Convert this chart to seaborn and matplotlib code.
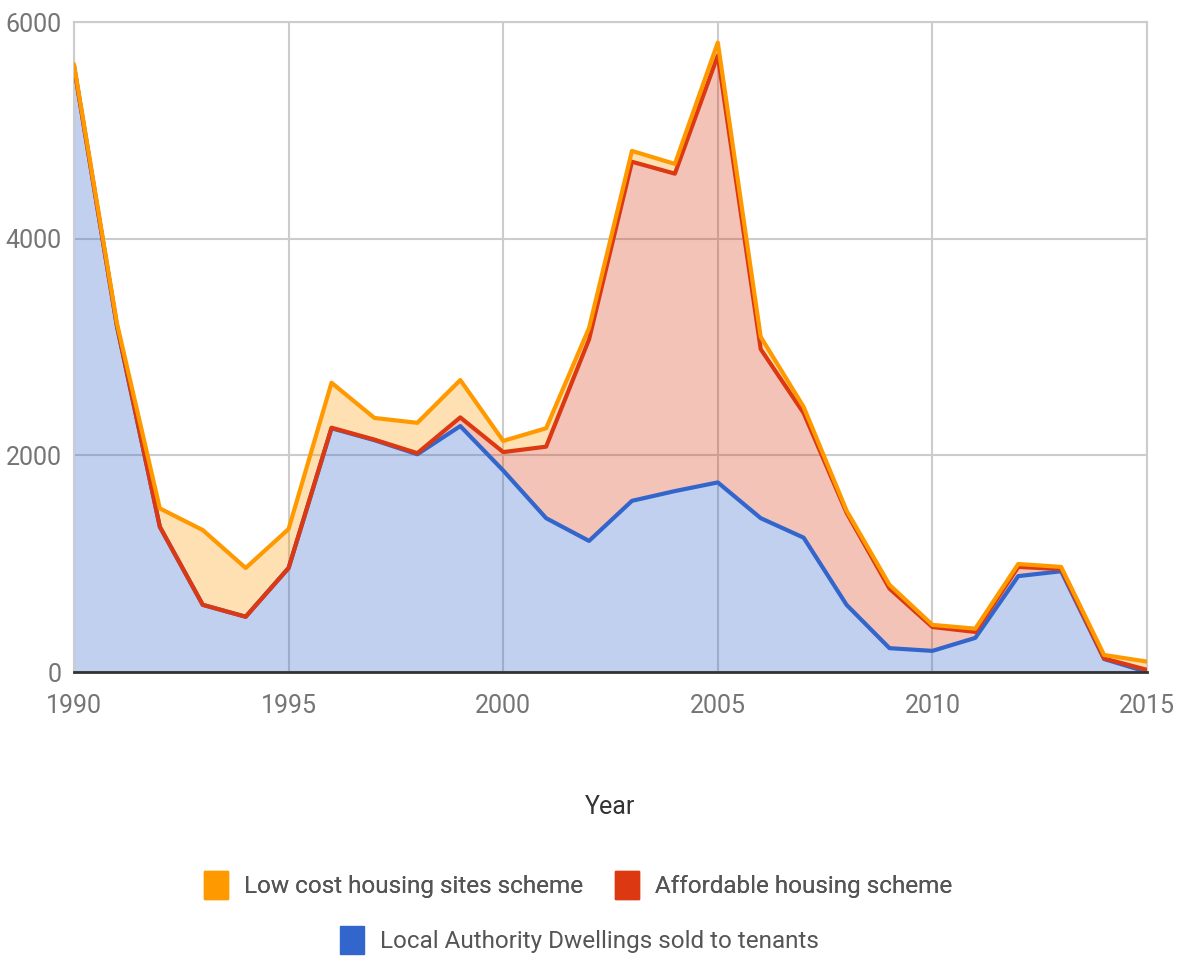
import numpy as np
import seaborn as sns
import matplotlib.pyplot as plt
from matplotlib.patches import Patch

years = list(range(1990, 2016))

# values per scheme
local_authority = [5590, 3190, 1340, 620, 510, 960, 2250, 2140, 2010, 2270,
                   1860, 1420, 1210, 1580, 1670, 1750, 1420, 1240, 620, 220,
                   195, 315, 885, 930, 120, 0]
affordable = [0, 10, 0, 0, 0, 0, 5, 5, 10, 80,
              170, 660, 1860, 3130, 2930, 3940, 1560, 1150, 850, 550,
              220, 55, 85, 20, 5, 20]
low_cost = [20, 20, 170, 690, 450, 360, 415, 200, 280, 345,
            103, 170, 105, 100, 90, 120, 113, 57, 20, 35,
            20, 30, 27, 20, 32, 76]

series_names = ["Low cost housing sites scheme", "Affordable housing scheme",
                "Local Authority Dwellings sold to tenants"]

BLUE = "#3366CC"
RED = "#DC3912"
ORANGE = "#FF9900"

sns.set_theme(style="whitegrid")
plt.rcParams["font.family"] = ["Roboto", "DejaVu Sans"]

fig = plt.figure(figsize=(11.78, 9.59), dpi=100)
ax = fig.add_axes([74 / 1178, 1 - 672 / 959, (1147 - 74) / 1178, (672 - 22) / 959])

blue_top = np.array(local_authority)
red_top = blue_top + np.array(affordable)
orange_top = red_top + np.array(low_cost)

ax.fill_between(years, 0, blue_top, color=BLUE, alpha=0.3, lw=0, zorder=2)
ax.fill_between(years, blue_top, red_top, color=RED, alpha=0.3, lw=0, zorder=2)
ax.fill_between(years, red_top, orange_top, color=ORANGE, alpha=0.3, lw=0, zorder=2)

sns.lineplot(x=years, y=blue_top, color=BLUE, linewidth=3, ax=ax, zorder=3)
sns.lineplot(x=years, y=red_top, color=RED, linewidth=3, ax=ax, zorder=4)
sns.lineplot(x=years, y=orange_top, color=ORANGE, linewidth=3, ax=ax, zorder=5)

ax.set_xlim(1990, 2015)
ax.set_ylim(0, 6000)
ax.set_xticks([1990, 1995, 2000, 2005, 2010, 2015])
ax.set_yticks([0, 2000, 4000, 6000])
ax.set_axisbelow(True)
ax.grid(True, color="#CCCCCC", linewidth=1.5)
ax.set_facecolor("white")
for side in ["top", "left", "right"]:
    ax.spines[side].set_color("#CCCCCC")
    ax.spines[side].set_linewidth(1.5)
ax.spines["bottom"].set_color("#333333")
ax.spines["bottom"].set_linewidth(2)
ax.spines["bottom"].set_zorder(6)

ax.tick_params(axis="x", labelsize=18, colors="#757575", pad=16, length=0)
ax.tick_params(axis="y", labelsize=18, colors="#757575", pad=9, length=0)
ax.set_xlabel("")
ax.set_ylabel("")

fig.text(610 / 1178, 1 - 807 / 959, "Year", ha="center", va="center",
         fontsize=18, color="#333333")

colors = [ORANGE, RED, BLUE]
handles = [Patch(facecolor=c, edgecolor=c) for c in colors]

leg_style = dict(frameon=False, fontsize=17.5, handlelength=1.0, handleheight=1.45,
                 handletextpad=0.65, columnspacing=1.3, labelcolor="#555555",
                 loc="center")
leg1 = fig.legend(handles[:2], series_names[:2], ncol=2,
                  bbox_to_anchor=(578 / 1178, 1 - 885 / 959), **leg_style)
fig.add_artist(leg1)
fig.legend(handles[2:], series_names[2:], ncol=1,
           bbox_to_anchor=(579 / 1178, 1 - 940 / 959), **leg_style)

fig.savefig("out.png", dpi=100, facecolor="white")
